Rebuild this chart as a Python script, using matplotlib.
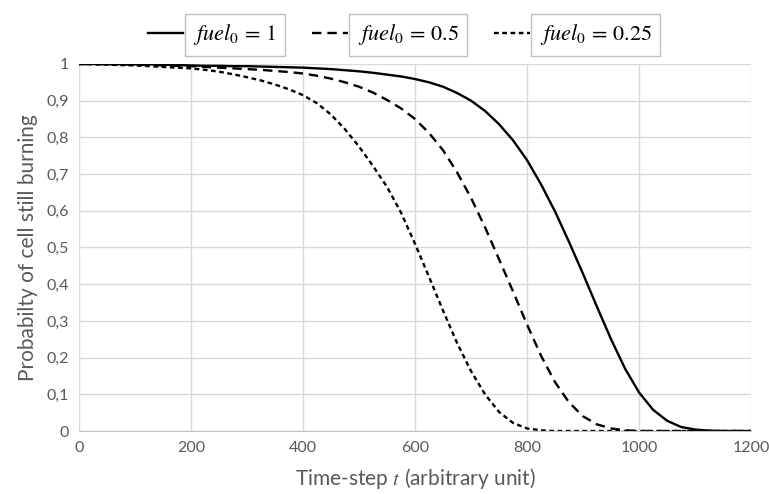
import numpy as np
import matplotlib
matplotlib.use("Agg")
import matplotlib.pyplot as plt
from matplotlib.ticker import FuncFormatter, MultipleLocator

plt.rcParams['font.family'] = ['Lato', 'DejaVu Sans']
plt.rcParams['mathtext.fontset'] = 'stix'

# time steps (arbitrary unit)
t = np.arange(0, 1201, 25)

# fuel_0 = 1
p_fuel1 = [1.0, 1.0, 1.0, 1.0, 0.999, 0.999, 0.998, 0.997, 0.996, 0.995,
           0.995, 0.994, 0.994, 0.993, 0.992, 0.991, 0.990, 0.988, 0.986, 0.983,
           0.980, 0.976, 0.971, 0.966, 0.959, 0.950, 0.938, 0.921, 0.900, 0.872,
           0.836, 0.792, 0.738, 0.672, 0.598, 0.515, 0.428, 0.338, 0.250, 0.170,
           0.105, 0.058, 0.028, 0.011, 0.004, 0.001, 0.0, 0.0, 0.0]

# fuel_0 = 0.5
p_fuel05 = [1.0, 1.0, 0.999, 0.999, 0.998, 0.997, 0.996, 0.995, 0.994, 0.992,
            0.990, 0.988, 0.986, 0.984, 0.981, 0.978, 0.974, 0.968, 0.960, 0.950,
            0.938, 0.922, 0.902, 0.879, 0.850, 0.812, 0.765, 0.705, 0.635, 0.555,
            0.468, 0.380, 0.290, 0.205, 0.133, 0.078, 0.040, 0.018, 0.007, 0.002,
            0.0, 0.0, 0.0, 0.0, 0.0, 0.0, 0.0, 0.0, 0.0]

# fuel_0 = 0.25
p_fuel025 = [1.0, 0.999, 0.998, 0.997, 0.996, 0.994, 0.992, 0.990, 0.988, 0.984,
             0.979, 0.972, 0.964, 0.955, 0.944, 0.931, 0.915, 0.893, 0.862, 0.822,
             0.775, 0.722, 0.665, 0.595, 0.510, 0.420, 0.328, 0.240, 0.163, 0.100,
             0.052, 0.022, 0.007, 0.002, 0.0, 0.0, 0.0, 0.0, 0.0, 0.0,
             0.0, 0.0, 0.0, 0.0, 0.0, 0.0, 0.0, 0.0, 0.0]

labels = [r'$fuel_0\,=\,1$', r'$fuel_0\,=\,0.5$', r'$fuel_0\,=\,0.25$']

fig = plt.figure(figsize=(7.69, 4.94), dpi=100)
ax = fig.add_axes([0.1027, 0.1275, 0.874, 0.743])

ax.plot(t, p_fuel1, color='black', lw=1.7, label=labels[0])
ax.plot(t, p_fuel05, color='black', lw=1.7, dashes=(4, 2.5), label=labels[1])
ax.plot(t, p_fuel025, color='black', lw=1.7, dashes=(2, 1.5), label=labels[2])

ax.set_xlim(0, 1200)
ax.set_ylim(0, 1)
ax.xaxis.set_major_locator(MultipleLocator(200))
ax.yaxis.set_major_locator(MultipleLocator(0.1))
ax.yaxis.set_major_formatter(FuncFormatter(lambda v, p: ('%g' % round(v, 1)).replace('.', ',')))
ax.grid(True, color='#d9d9d9', lw=1)
ax.set_axisbelow(True)
for s in ['top', 'right', 'left']:
    ax.spines[s].set_visible(False)
ax.spines['bottom'].set_color('#bfbfbf')
ax.tick_params(length=0, labelsize=11.5, labelcolor='#595959', pad=7)

ax.set_xlabel('Time-step $\\it{t}$ (arbitrary unit)', fontsize=15, color='#595959', labelpad=8)
ax.set_ylabel('Probabilty of cell still burning', fontsize=15, color='#595959', labelpad=6)

leg = fig.legend(loc='upper center', bbox_to_anchor=(0.52, 0.995), ncol=3, frameon=False,
                 fontsize=16, handlelength=1.6, handletextpad=0.45, columnspacing=1.6)
for txt in leg.get_texts():
    txt.set_bbox(dict(facecolor='white', edgecolor='#bfbfbf', lw=1, pad=6))

fig.savefig('out.png', dpi=100)
